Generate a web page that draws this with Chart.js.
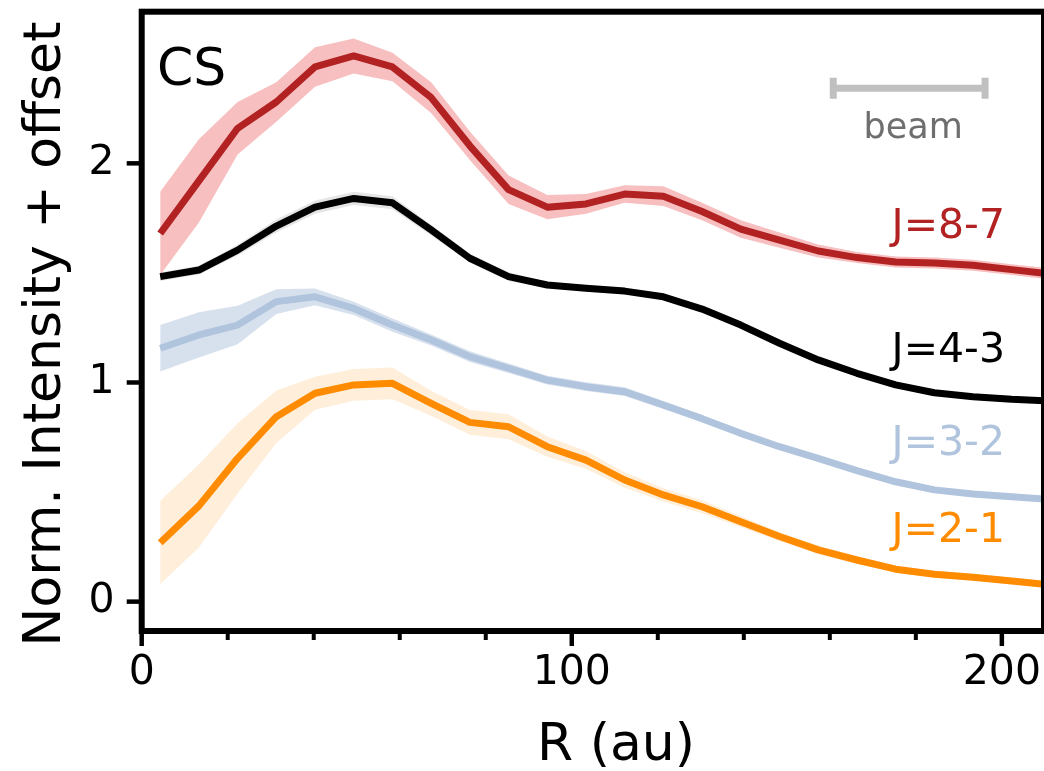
<!DOCTYPE html>
<html>
<head>
<meta charset="utf-8">
<script src="https://cdn.jsdelivr.net/npm/chart.js@4/dist/chart.umd.min.js"></script>
<style>
html,body{margin:0;padding:0;background:#fff;}
#wrap{width:1044px;height:771px;position:relative;}
canvas{display:block;}
</style>
</head>
<body>
<div id="wrap"><canvas id="c" width="1044" height="771"></canvas></div>
<script>
// ---- data ----
const radius = [4.3, 13.3, 22.3, 31.3, 40.3, 49.3, 58.3, 67.3, 76.3, 85.3, 94.3, 103.3, 112.3, 121.3, 130.3, 139.3, 148.3, 157.3, 166.3, 175.3, 184.3, 193.3, 202.3, 211.3];

const j87 = [1.68, 1.92, 2.16, 2.28, 2.44, 2.49, 2.44, 2.30, 2.08, 1.88, 1.80, 1.815, 1.86, 1.85, 1.78, 1.70, 1.65, 1.60, 1.57, 1.55, 1.545, 1.535, 1.515, 1.495];
const j87Err = [0.19, 0.19, 0.12, 0.09, 0.09, 0.08, 0.065, 0.07, 0.065, 0.065, 0.055, 0.045, 0.04, 0.045, 0.04, 0.04, 0.035, 0.03, 0.025, 0.025, 0.025, 0.025, 0.025, 0.025];

const j43 = [1.483, 1.513, 1.604, 1.714, 1.80, 1.84, 1.82, 1.696, 1.567, 1.483, 1.445, 1.43, 1.417, 1.391, 1.335, 1.262, 1.179, 1.103, 1.042, 0.989, 0.953, 0.935, 0.923, 0.915];
const j43Err = [0.02, 0.02, 0.025, 0.03, 0.03, 0.03, 0.03, 0.025, 0.02, 0.02, 0.015, 0.015, 0.015, 0.015, 0.012, 0.01, 0.01, 0.01, 0.01, 0.01, 0.01, 0.01, 0.01, 0.01];

const j32 = [1.156, 1.217, 1.262, 1.369, 1.391, 1.338, 1.262, 1.194, 1.118, 1.065, 1.011, 0.981, 0.958, 0.897, 0.835, 0.768, 0.707, 0.654, 0.598, 0.547, 0.51, 0.491, 0.479, 0.466];
const j32Err = [0.106, 0.103, 0.088, 0.057, 0.038, 0.03, 0.03, 0.025, 0.025, 0.022, 0.02, 0.02, 0.02, 0.018, 0.015, 0.015, 0.012, 0.012, 0.01, 0.01, 0.01, 0.01, 0.01, 0.01];

const j21 = [0.269, 0.437, 0.654, 0.844, 0.951, 0.989, 0.996, 0.905, 0.818, 0.798, 0.707, 0.646, 0.555, 0.487, 0.433, 0.365, 0.297, 0.236, 0.19, 0.148, 0.125, 0.111, 0.094, 0.076];
const j21Err = [0.19, 0.19, 0.16, 0.12, 0.075, 0.072, 0.072, 0.057, 0.057, 0.057, 0.046, 0.04, 0.035, 0.03, 0.03, 0.025, 0.02, 0.02, 0.018, 0.015, 0.015, 0.015, 0.015, 0.015];

const seriesLabels = ['J=8-7', 'J=4-3', 'J=3-2', 'J=2-1'];
const xMajorTicks = [0, 100, 200];
const xMinorTicks = [20, 40, 60, 80, 120, 140, 160, 180];
const yTicks = [0, 1, 2];
const beamStart = 160.8;   // au
const beamWidth = 35.3;    // au
const beamLevel = 2.343;

// ---- build datasets ----
const FONT = "'DejaVu Sans', 'Liberation Sans', sans-serif";
function pts(vals, sign, errs) {
  return radius.map((r, i) => ({x: r, y: vals[i] + sign * (errs ? errs[i] : 0)}));
}
function band(vals, errs, color) {
  return [
    {data: pts(vals, -1, errs), borderWidth: 0, pointRadius: 0, fill: false, order: 2, tension: 0},
    {data: pts(vals, 1, errs), borderWidth: 0, pointRadius: 0, fill: '-1', backgroundColor: color, order: 2, tension: 0}
  ];
}
function line(vals, color, label) {
  return {label: label, data: pts(vals, 0), borderColor: color, borderWidth: 7, pointRadius: 0,
          fill: false, order: 1, tension: 0, borderJoinStyle: 'round', borderCapStyle: 'butt'};
}
const series = [
  {v: j21, e: j21Err, line: '#ff8c00', band: 'rgba(255,140,0,0.15)', label: seriesLabels[3]},
  {v: j32, e: j32Err, line: '#b0c4de', band: 'rgba(176,196,222,0.5)', label: seriesLabels[2]},
  {v: j43, e: j43Err, line: '#000000', band: 'rgba(0,0,0,0.1)', label: seriesLabels[1]},
  {v: j87, e: j87Err, line: '#b22222', band: 'rgba(240,128,128,0.5)', label: seriesLabels[0]}
];
const datasets = [];
series.forEach(s => { datasets.push(...band(s.v, s.e, s.band)); });
series.forEach(s => { datasets.push(line(s.v, s.line, s.label)); });

// ---- decorations plugin: spines, tick marks, labels, beam ----
const deco = {
  id: 'deco',
  afterDatasetsDraw(chart) {
    const ctx = chart.ctx, a = chart.chartArea;
    const xs = chart.scales.x, ys = chart.scales.y;
    ctx.save();
    // beam
    const bx0 = xs.getPixelForValue(beamStart), bx1 = xs.getPixelForValue(beamStart + beamWidth);
    const by = ys.getPixelForValue(beamLevel);
    ctx.strokeStyle = '#c0c0c0';
    ctx.lineWidth = 7;
    ctx.beginPath(); ctx.moveTo(bx0, by); ctx.lineTo(bx1, by); ctx.stroke();
    ctx.beginPath(); ctx.moveTo(bx0, by - 10.5); ctx.lineTo(bx0, by + 10.5);
    ctx.moveTo(bx1, by - 10.5); ctx.lineTo(bx1, by + 10.5); ctx.stroke();
    ctx.fillStyle = '#6e6e6e';
    ctx.font = '35px ' + FONT;
    ctx.textAlign = 'center'; ctx.textBaseline = 'alphabetic';
    ctx.fillText('beam', (bx0 + bx1) / 2 + 4, 138);

    // spines
    ctx.strokeStyle = '#000'; ctx.lineWidth = 6; ctx.lineCap = 'square';
    ctx.strokeRect(a.left, a.top, a.right - a.left, a.bottom - a.top);
    // x ticks
    ctx.lineCap = 'butt';
    ctx.lineWidth = 4.5;
    xMajorTicks.forEach(v => {
      const p = xs.getPixelForValue(v);
      ctx.beginPath(); ctx.moveTo(p, a.bottom); ctx.lineTo(p, a.bottom + 15); ctx.stroke();
    });
    ctx.lineWidth = 4;
    xMinorTicks.forEach(v => {
      const p = xs.getPixelForValue(v);
      ctx.beginPath(); ctx.moveTo(p, a.bottom); ctx.lineTo(p, a.bottom + 9); ctx.stroke();
    });
    ctx.lineWidth = 4.5;
    yTicks.forEach(v => {
      const p = ys.getPixelForValue(v);
      ctx.beginPath(); ctx.moveTo(a.left, p); ctx.lineTo(a.left - 15, p); ctx.stroke();
    });

    // texts
    ctx.textBaseline = 'alphabetic';
    ctx.fillStyle = '#000';
    ctx.font = '52px ' + FONT;
    ctx.textAlign = 'left';
    ctx.fillText('CS', 157, 85);

    ctx.font = '41px ' + FONT;
    ctx.textAlign = 'right';
    const lab = [
      {t: seriesLabels[0], c: '#b22222', y: 238},
      {t: seriesLabels[1], c: '#000000', y: 362},
      {t: seriesLabels[2], c: '#b0c4de', y: 455},
      {t: seriesLabels[3], c: '#ff8c00', y: 542}
    ];
    lab.forEach(l => { ctx.fillStyle = l.c; ctx.fillText(l.t, 1005, l.y); });

    // axis titles
    ctx.fillStyle = '#000';
    ctx.font = '52px ' + FONT;
    ctx.textAlign = 'center';
    ctx.fillText('R (au)', 616, 760);
    ctx.save();
    ctx.translate(60, 334);
    ctx.rotate(-Math.PI / 2);
    ctx.font = '52px ' + FONT;
    ctx.fillText('Norm. Intensity + offset', 0, 0);
    ctx.restore();
    ctx.restore();
  }
};

function zeroPad(s) { s.paddingTop = 0; s.paddingBottom = 0; s.paddingLeft = 0; s.paddingRight = 0; }

new Chart(document.getElementById('c'), {
  type: 'line',
  data: {datasets: datasets},
  options: {
    responsive: false,
    animation: false,
    devicePixelRatio: 1,
    layout: {padding: {top: 11.7, right: 0, left: 0, bottom: 0}},
    plugins: {legend: {display: false}, tooltip: {enabled: false}, filler: {propagate: false}},
    scales: {
      x: {
        type: 'linear', min: 0, max: 209.8,
        grid: {display: false, drawTicks: false},
        border: {display: false},
        afterBuildTicks: s => { s.ticks = xMajorTicks.map(v => ({value: v})); },
        afterFit: s => { s.height = 140; zeroPad(s); },
        ticks: {font: {family: FONT, size: 41}, color: '#000', padding: 18, maxRotation: 0, autoSkip: false,
                callback: v => String(v)}
      },
      y: {
        type: 'linear', min: -0.134, max: 2.692,
        grid: {display: false, drawTicks: false},
        border: {display: false},
        afterBuildTicks: s => { s.ticks = yTicks.map(v => ({value: v})); },
        afterFit: s => { s.width = 141.7; zeroPad(s); },
        ticks: {font: {family: FONT, size: 41}, color: '#000', padding: 27, callback: v => String(v)}
      }
    }
  },
  plugins: [deco]
});
</script>
</body>
</html>
